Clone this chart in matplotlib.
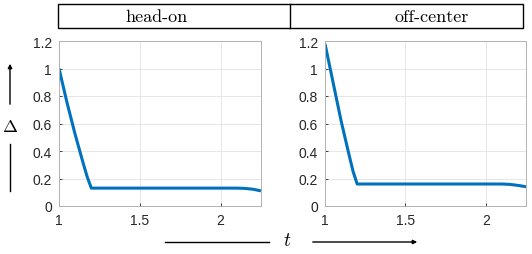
import matplotlib
matplotlib.use("Agg")
import matplotlib.pyplot as plt
from matplotlib.patches import Rectangle, FancyArrowPatch
from matplotlib.lines import Line2D

# data
t = [1.0, 1.05, 1.1, 1.15, 1.175, 1.2, 1.5, 2.0, 2.1, 2.15, 2.2, 2.25]
head_on = [1.0, 0.75, 0.52, 0.31, 0.21, 0.13, 0.13, 0.13, 0.13, 0.128, 0.122, 0.11]
off_center = [1.18, 0.90, 0.62, 0.37, 0.25, 0.16, 0.16, 0.16, 0.16, 0.157, 0.15, 0.14]
titles = ["head-on", "off-center"]
xticks = [1, 1.5, 2]
yticks = [0, 0.2, 0.4, 0.6, 0.8, 1, 1.2]
ytick_labels = ["0", "0.2", "0.4", "0.6", "0.8", "1", "1.2"]

W, H = 532, 255
fig = plt.figure(figsize=(W / 100, H / 100), dpi=100)
plt.rcParams['font.family'] = ['Liberation Sans', 'DejaVu Sans']
plt.rcParams['mathtext.fontset'] = 'cm'

def fx(px):
    return px / W

def fy(py):
    return 1 - py / H

blue = '#0072BD'
boxes = [(59, 261), (325, 526)]
series = [head_on, off_center]
for (x0, x1), vals in zip(boxes, series):
    ax = fig.add_axes([fx(x0), fy(207), fx(x1 - x0), (207 - 42) / H])
    ax.plot(t, vals, color=blue, lw=2.2, solid_capstyle='butt')
    ax.set_xlim(1, 2.25)
    ax.set_ylim(0, 1.2)
    ax.set_xticks(xticks)
    ax.set_xticklabels(["1", "1.5", "2"])
    ax.set_yticks(yticks)
    ax.set_yticklabels(ytick_labels)
    ax.grid(True, color='#e6e6e6', lw=0.7)
    ax.set_axisbelow(True)
    ax.tick_params(direction='in', length=2.5, width=0.6, labelsize=10,
                   colors='#262626')
    ax.tick_params(axis='x', pad=5)
    ax.tick_params(axis='y', pad=5)
    for sp in ax.spines.values():
        sp.set_color('#b3b3b3')
        sp.set_linewidth(0.7)

# header box with titles
fig.add_artist(Rectangle((fx(58), fy(29)), fx(523 - 58), (29 - 5) / H,
                         transform=fig.transFigure, fill=False, ec='black', lw=1))
fig.add_artist(Line2D([fx(290), fx(290)], [fy(29), fy(5)],
                      transform=fig.transFigure, color='black', lw=1))
fig.text(fx(157), fy(17), titles[0], family='cmr10', fontsize=13,
         ha='center', va='center')
fig.text(fx(432), fy(17), titles[1], family='cmr10', fontsize=13,
         ha='center', va='center')

# y label with arrow
fig.text(fx(10), fy(128), r'$\Delta$', fontsize=13, ha='center', va='center')
fig.add_artist(FancyArrowPatch((fx(10), fy(108)), (fx(10), fy(62)),
                               transform=fig.transFigure, arrowstyle='-|>',
                               mutation_scale=6, color='black', lw=1))
fig.add_artist(Line2D([fx(10), fx(10)], [fy(145), fy(192)],
                      transform=fig.transFigure, color='black', lw=1))

# x label with arrow
fig.text(fx(287), fy(242), r'$t$', fontsize=14, ha='center', va='center')
fig.add_artist(Line2D([fx(165), fx(269)], [fy(243), fy(243)],
                      transform=fig.transFigure, color='black', lw=1))
fig.add_artist(FancyArrowPatch((fx(310), fy(243)), (fx(420), fy(243)),
                               transform=fig.transFigure, arrowstyle='-|>',
                               mutation_scale=6, color='black', lw=1))

fig.savefig("out.png", dpi=100)
